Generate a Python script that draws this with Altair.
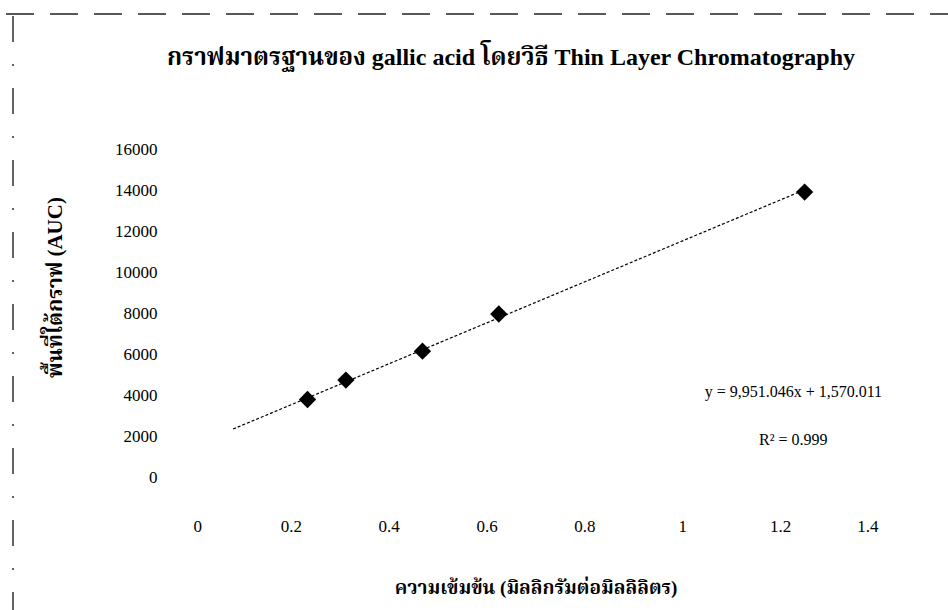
import altair as alt
import pandas as pd

# Data
conc = [0.234, 0.3125, 0.469, 0.625, 1.25]
auc = [3780, 4730, 6140, 7950, 13900]

trend_x = [0.082, 1.25]
trend_y = [2340, 14010]

x_ticks = [0, 0.2, 0.4, 0.6, 0.8, 1.0, 1.2, 1.4]
y_ticks = [0, 2000, 4000, 6000, 8000, 10000, 12000, 14000, 16000]

ann_text = ["y = 9,951.046x + 1,570.011", "R² = 0.999"]
ann_x = [1.227, 1.227]
ann_y = [4150, 1820]

title_text = ["กราฟมาตรฐานของ gallic acid โดยวิธี Thin Layer Chromatography"]
x_title = "ความเข้มข้น (มิลลิกรัมต่อมิลลิลิตร)"
y_title = "พื้นที่ใต้กราฟ (AUC)"

FONT = "Liberation Serif, Noto Serif Thai, Noto Sans Thai, Tlwg Typo, serif"

pts = pd.DataFrame({"conc": conc, "auc": auc})
trend = pd.DataFrame({"conc": trend_x, "auc": trend_y})
ann = pd.DataFrame({"t": ann_text, "x": ann_x, "y": ann_y})
ttl = pd.DataFrame({"t": title_text})

xscale = alt.Scale(domain=[0, 1.4], nice=False, zero=False)
yscale = alt.Scale(domain=[0, 16000], nice=False)

xaxis = alt.Axis(
    values=x_ticks, labelExpr="format(datum.value, '.1~f')", domain=False, ticks=False,
    grid=False, offset=40, labelPadding=1, labelFontSize=17, labelFont=FONT,
    title=x_title, titleFont=FONT, titleFontSize=19, titleFontWeight="bold",
    titlePadding=44, labelColor="black", titleColor="black",
)
yaxis = alt.Axis(
    values=y_ticks, format="d", domain=False, ticks=False, grid=False,
    labelPadding=36, labelFontSize=17, labelFont=FONT,
    title=y_title, titleFont=FONT, titleFontSize=21, titleFontWeight="bold",
    titleX=-138, titleY=138, titleAlign="center", titleBaseline="middle", titleAngle=-90,
    labelColor="black", titleColor="black",
)

trend_line = alt.Chart(trend).mark_line(
    color="black", strokeWidth=1.2, strokeDash=[3, 2]
).encode(
    x=alt.X("conc:Q", scale=xscale, axis=xaxis),
    y=alt.Y("auc:Q", scale=yscale, axis=yaxis),
)

points = alt.Chart(pts).mark_point(
    shape="diamond", filled=True, color="black", size=300, opacity=1
).encode(
    x=alt.X("conc:Q", scale=xscale),
    y=alt.Y("auc:Q", scale=yscale),
)

labels = alt.Chart(ann).mark_text(
    font=FONT, fontSize=16, color="black", align="center", baseline="middle"
).encode(
    x=alt.X("x:Q", scale=xscale),
    y=alt.Y("y:Q", scale=yscale),
    text="t:N",
)

title_mark = alt.Chart(ttl).mark_text(
    font=FONT, fontSize=24, fontWeight="bold", color="black", align="center", baseline="middle"
).encode(x=alt.value(318), y=alt.value(-91), text="t:N")

frame_top = alt.Chart(pd.DataFrame({"k": [0]})).mark_rule(
    color="#222", strokeWidth=1.6, strokeDash=[28, 16]
).encode(x=alt.value(-187), x2=alt.value(755), y=alt.value(-135))

frame_left = alt.Chart(pd.DataFrame({"k": [0]})).mark_rule(
    color="#222", strokeWidth=1.4, strokeDash=[26, 22, 2, 22]
).encode(x=alt.value(-180), y=alt.value(-133), y2=alt.value(461))

chart = alt.layer(frame_top, frame_left, title_mark, trend_line, points, labels).properties(
    width=685,
    height=328,
    padding={"left": 193, "top": 149, "right": 70, "bottom": 133},
    autosize=alt.AutoSizeParams(type="none"),
    background="white",
).configure_view(strokeWidth=0)

chart.save("out.html", embed_options={"renderer": "svg", "actions": False})
